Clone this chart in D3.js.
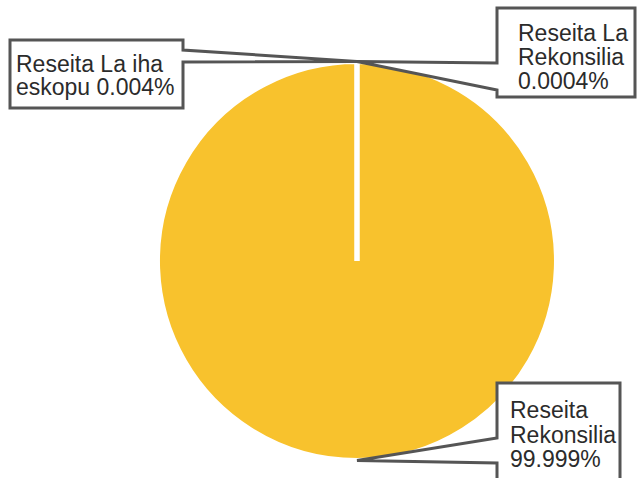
<!DOCTYPE html>
<html>
<head>
<meta charset="utf-8">
<script src="https://cdn.jsdelivr.net/npm/d3@7/dist/d3.min.js"></script>
<style>
html,body{margin:0;padding:0;background:#fff;}
svg{display:block;}
</style>
</head>
<body>
<svg id="chart" width="638" height="478"></svg>
<script>
const categories = ["Reseita La Rekonsilia", "Reseita Rekonsilia", "Reseita La iha eskopu"];
const values = [0.0004, 99.999, 0.004];
const labelLines = [
  ["Reseita La", "Rekonsilia", "0.0004%"],
  ["Reseita", "Rekonsilia", "99.999%"],
  ["Reseita La iha", "eskopu 0.004%"]
];

const W = 638, H = 478;
const cx = 357, cy = 261, R = 199.5;
const svg = d3.select("#chart");
const g = svg.append("g").attr("transform", `translate(${cx},${cy})`);

const pie = d3.pie().sort(null).value(d => d).startAngle(0).endAngle(2 * Math.PI);
const arcs = pie(values);
const arc = d3.arc().innerRadius(0).outerRadius(R);

g.selectAll("path.slice").data(arcs).enter().append("path")
  .attr("class", "slice")
  .attr("d", arc)
  .attr("fill", "#F8C22D")
  .attr("stroke", "#ffffff")
  .attr("stroke-width", 5)
  .attr("stroke-linejoin", "miter");

const boxes = [
  {x0: 497, y0: 8, x1: 635, y1: 97, side: "left", n0: 63, n1: 90, tx: 518, ty: 40.5, lh: 24},
  {x0: 497, y0: 383, x1: 620, y1: 492, side: "left", n0: 438, n1: 463, tx: 510, ty: 418, lh: 24.5},
  {x0: 10, y0: 40, x1: 183, y1: 108, side: "right", n0: 50, n1: 62, tx: 16, ty: 71.5, lh: 23.5}
];

function anchor(a) {
  const m = (a.startAngle + a.endAngle) / 2;
  return [cx + R * Math.sin(m), cy - R * Math.cos(m)];
}

arcs.forEach((a, i) => {
  const b = boxes[i];
  const [px, py] = anchor(a);
  const p = d3.path();
  if (b.side === "left") {
    p.moveTo(b.x0, b.y0);
    p.lineTo(b.x1, b.y0);
    p.lineTo(b.x1, b.y1);
    p.lineTo(b.x0, b.y1);
    p.lineTo(b.x0, b.n1);
    p.lineTo(px, py);
    p.lineTo(b.x0, b.n0);
    p.closePath();
  } else {
    p.moveTo(b.x0, b.y0);
    p.lineTo(b.x1, b.y0);
    p.lineTo(b.x1, b.n0);
    p.lineTo(px, py);
    p.lineTo(b.x1, b.n1);
    p.lineTo(b.x1, b.y1);
    p.lineTo(b.x0, b.y1);
    p.closePath();
  }
  svg.append("path")
    .attr("d", p.toString())
    .attr("fill", "#ffffff")
    .attr("stroke", "#555555")
    .attr("stroke-width", 3)
    .attr("stroke-linejoin", "miter");

  const t = svg.append("text")
    .attr("x", b.tx)
    .attr("y", b.ty)
    .attr("font-family", "'Liberation Sans', Arial, sans-serif")
    .attr("font-size", 23)
    .attr("fill", "#2b2b2b");
  labelLines[i].forEach((line, j) => {
    t.append("tspan").attr("x", b.tx).attr("y", b.ty + j * b.lh).text(line);
  });
});
</script>
</body>
</html>
